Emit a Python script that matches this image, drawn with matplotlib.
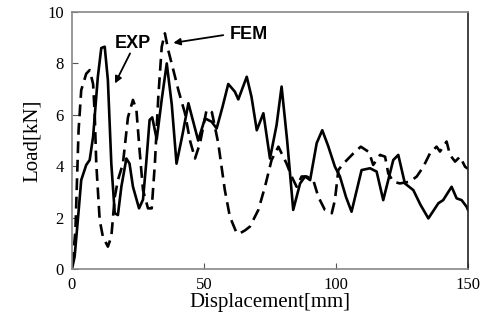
import matplotlib
matplotlib.use("Agg")
import matplotlib.pyplot as plt

# EXP (solid) - displacement [mm], load [kN]
exp_x = [0, 1.0, 2.3, 3.5, 5.4, 6.7, 8.0, 9.8, 11.1, 12.4, 13.6, 14.9, 16.2, 17.4,
         18.7, 20.6, 21.8, 23.1, 25.4, 26.9, 28.1, 29.4, 30.4, 32.1, 34.0, 35.9,
         37.8, 39.6, 41.8, 44.1, 47.8, 50.4, 52.9, 54.8, 57.0, 59.2, 61.7, 63.0,
         66.2, 68.0, 70.0, 72.5, 75.0, 77.5, 79.4, 81.5, 83.8, 86.4, 88.3, 90.2,
         92.7, 94.8, 97.0, 99.6, 101.5, 103.8, 105.9, 109.7, 112.9, 115.4, 117.9,
         121.7, 123.6, 126.1, 129.3, 132.0, 135.0, 138.8, 140.6, 143.8, 145.7,
         147.6, 149.5, 150]
exp_y = [0, 0.48, 2.0, 3.46, 4.05, 4.24, 5.15, 7.48, 8.6, 8.65, 7.35, 4.1, 2.17, 2.1,
         3.2, 4.3, 4.1, 3.2, 2.36, 2.7, 4.1, 5.8, 5.9, 5.05, 6.6, 8.0,
         6.4, 4.1, 5.2, 6.45, 5.0, 5.86, 5.73, 5.47, 6.3, 7.2, 6.9, 6.6,
         7.48, 6.7, 5.4, 6.06, 4.3, 5.6, 7.1, 5.0, 2.3, 3.33, 3.6, 3.46,
         4.9, 5.4, 4.8, 3.98, 3.6, 2.8, 2.23, 3.85, 3.92, 3.79, 2.68,
         4.24, 4.44, 3.33, 3.07, 2.5, 1.97, 2.56, 2.68, 3.2, 2.75,
         2.68, 2.42, 2.3]

# FEM (dashed)
fem_x = [0.2, 1.3, 2.5, 3.5, 5.4, 6.7, 8.0, 8.6, 9.2, 10.5, 11.7, 13.6, 14.9, 16.2,
         17.4, 19.3, 21.2, 23.1, 24.4, 25.6, 26.9, 28.8, 30.2, 31.4, 32.7, 34.0,
         35.2, 36.5, 38.4, 40.3, 42.8, 44.7, 46.6, 48.5, 51.0, 53.0, 55.4, 57.9,
         59.8, 62.4, 63.6, 65.5, 67.4, 70.6, 73.1, 75.6, 78.2, 79.4, 81.3, 83.2,
         85.1, 87.0, 88.9, 91.4, 93.3, 95.8, 98.4, 99.6, 100.9, 102.8, 106.6,
         109.4, 112.5, 114.1, 116.7, 118.6, 119.8, 121.7, 124.2, 128.0, 130.6,
         133.1, 135.6, 138.1, 139.4, 141.9, 143.2, 145.1, 147.0, 148.9, 150]
fem_y = [0.2, 1.5, 5.4, 6.96, 7.6, 7.74, 7.2, 6.06, 4.1, 1.9, 1.26, 0.87, 1.26, 2.8,
         3.46, 4.1, 5.9, 6.58, 6.2, 4.63, 3.07, 2.36, 2.36, 4.1, 6.7, 8.65,
         9.17, 8.5, 7.74, 6.96, 6.06, 5.0, 4.3, 4.9, 6.2, 6.1, 4.9, 3.07,
         2.04, 1.39, 1.39, 1.5, 1.65, 2.3, 3.2, 4.24, 4.76, 4.5, 4.1, 3.6,
         3.2, 3.6, 3.6, 3.46, 2.81, 2.3, 2.17, 2.68, 3.85, 4.1, 4.5,
         4.76, 4.55, 4.05, 4.44, 4.37, 3.72, 3.4, 3.33, 3.4, 3.6,
         3.98, 4.5, 4.76, 4.57, 4.96, 4.44, 4.18, 4.37, 3.98, 3.9]

x_ticks = [0, 50, 100, 150]
y_ticks = [0, 2, 4, 6, 8, 10]

fig = plt.figure(figsize=(4.89, 3.25), dpi=100)
ax = fig.add_axes([0.1472, 0.1723, 0.8098, 0.7907])

ax.plot(exp_x, exp_y, color="black", lw=1.9, solid_joinstyle="round")
ax.plot(fem_x, fem_y, color="black", lw=1.9, dashes=(4.5, 2.5))

ax.set_xlim(0, 150)
ax.set_ylim(0, 10)
ax.set_xticks(x_ticks)
ax.set_yticks(y_ticks)
ax.tick_params(direction="in", length=4, width=0.8, color="#555555",
               labelsize=12, pad=6)
for lab in ax.get_xticklabels() + ax.get_yticklabels():
    lab.set_fontfamily("Liberation Serif")

for side in ["top", "bottom", "left"]:
    ax.spines[side].set_color("#888888")
    ax.spines[side].set_linewidth(1.2)
ax.spines["right"].set_color("#222222")
ax.spines["right"].set_linewidth(1.2)

ax.set_xlabel("Displacement[mm]", fontsize=15, family="Liberation Serif", labelpad=0)
ax.set_ylabel("Load[kN]", fontsize=15, family="Liberation Serif", labelpad=4)

# labels and arrows
ax.text(22.9, 8.78, "EXP", ha="center", va="center", fontsize=13,
        fontweight="bold", family="Liberation Sans")
ax.text(67.0, 9.14, "FEM", ha="center", va="center", fontsize=13,
        fontweight="bold", family="Liberation Sans")
arrow = dict(arrowstyle="-|>", color="black", lw=1.3, mutation_scale=10,
             shrinkA=0, shrinkB=0)
ax.annotate("", xy=(16.3, 7.22), xytext=(22.0, 8.39), arrowprops=arrow)
ax.annotate("", xy=(38.4, 8.8), xytext=(57.3, 9.1), arrowprops=arrow)

fig.savefig("out.png", dpi=100)
